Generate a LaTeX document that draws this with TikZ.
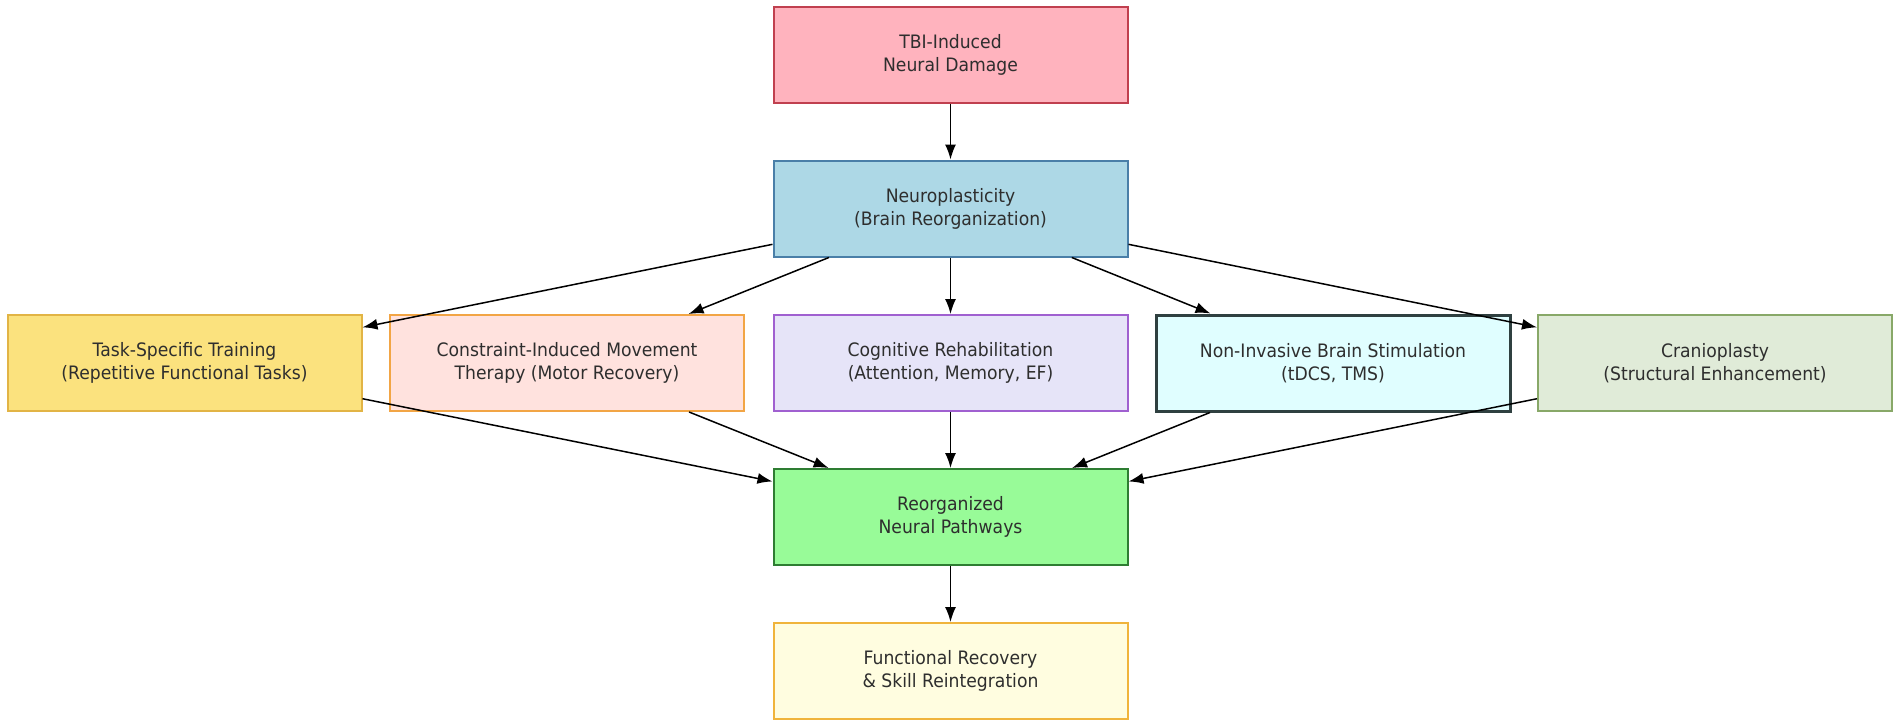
\documentclass[tikz,border=0pt]{standalone}
\usepackage{fontspec}
\setmainfont{DejaVu Sans}[FakeStretch=0.93]
\usetikzlibrary{arrows.meta}
\definecolor{tbifill}{HTML}{FFB3BE}\definecolor{tbidraw}{HTML}{C0404F}
\definecolor{neufill}{HTML}{ADD8E6}\definecolor{neudraw}{HTML}{4A7FA8}
\definecolor{taskfill}{HTML}{FBE27E}\definecolor{taskdraw}{HTML}{E2B445}
\definecolor{cimtfill}{HTML}{FFE2DE}\definecolor{cimtdraw}{HTML}{F2A545}
\definecolor{cogfill}{HTML}{E6E4F8}\definecolor{cogdraw}{HTML}{A060D0}
\definecolor{nibsfill}{HTML}{E0FEFF}\definecolor{nibsdraw}{HTML}{2F4040}
\definecolor{cranfill}{HTML}{E0EBD8}\definecolor{crandraw}{HTML}{88A868}
\definecolor{reofill}{HTML}{98FB98}\definecolor{reodraw}{HTML}{2E7D32}
\definecolor{funfill}{HTML}{FFFDE0}\definecolor{fundraw}{HTML}{F0B43C}
\definecolor{txt}{HTML}{2E2E2E}
\tikzset{
  box/.style={draw, line width=2pt, minimum width=354pt, minimum height=96pt,
    inner sep=0pt, align=center, text=txt,
    font=\fontsize{18.5}{23}\selectfont},
  arr/.style={-{Latex[length=15pt,width=11pt]}, line width=1.5pt, black}
}
\begin{document}
\begin{tikzpicture}[x=1pt,y=-1pt]
\useasboundingbox (0,0) rectangle (1901,728);
\node[box, fill=tbifill, draw=tbidraw] (tbi) at (950.5,55) {TBI-Induced\\Neural Damage};
\node[box, fill=neufill, draw=neudraw] (neu) at (950.5,208.5) {Neuroplasticity\\(Brain Reorganization)};
\node[box, fill=taskfill, draw=taskdraw] (task) at (184.5,363) {Task-Specific Training\\(Repetitive Functional Tasks)};
\node[box, fill=cimtfill, draw=cimtdraw] (cimt) at (567,363) {Constraint-Induced Movement\\Therapy (Motor Recovery)};
\node[box, fill=cogfill, draw=cogdraw] (cog) at (950.5,363) {Cognitive Rehabilitation\\(Attention, Memory, EF)};
\node[box, fill=nibsfill, draw=nibsdraw, line width=3pt] (nibs) at (1333,363) {Non-Invasive Brain Stimulation\\(tDCS, TMS)};
\node[box, fill=cranfill, draw=crandraw] (cran) at (1715,363) {Cranioplasty\\(Structural Enhancement)};
\node[box, fill=reofill, draw=reodraw] (reo) at (950.5,517) {Reorganized\\Neural Pathways};
\node[box, fill=funfill, draw=fundraw] (fun) at (950.5,671) {Functional Recovery\\\& Skill Reintegration};
\draw[arr] (tbi) -- (neu);
\foreach \n in {task,cimt,cog,nibs,cran}{
  \draw[arr] (neu) -- (\n);
  \draw[arr] (\n) -- (reo);
}
\draw[arr] (reo) -- (fun);
\end{tikzpicture}
\end{document}
